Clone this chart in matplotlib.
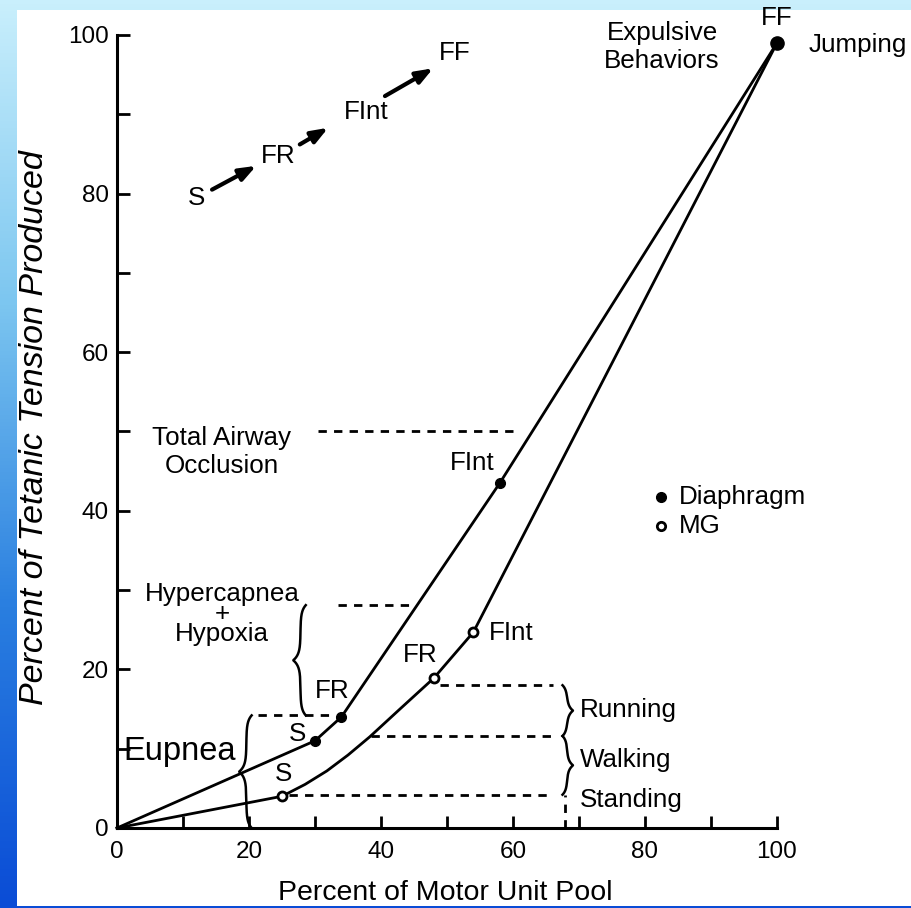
import numpy as np
import matplotlib
matplotlib.use("Agg")
import matplotlib.pyplot as plt
from matplotlib.patches import Rectangle

plt.rcParams['font.family'] = ['Liberation Sans', 'DejaVu Sans']

# curves (percent of motor unit pool vs percent of tetanic tension)
diaph_x = [0, 30, 34, 58, 100]
diaph_y = [0, 11, 14, 43.5, 99]
diaph_labels = ["S", "FR", "FInt", "FF"]

mg_x = [0, 25, 28.5, 31.8, 35, 38.3, 43, 48, 54, 100]
mg_y = [0, 4, 5.5, 7.2, 9.2, 11.5, 15.1, 18.9, 24.7, 99]
mg_marks = [1, 7, 8]          # S, FR, FInt

# dashed reference levels: (y, x start, x end)
occlusion = (50, 30.5, 60.8)
hypercap = (28.1, 33.5, 44.7)
eupnea = (14.2, 21.4, 32.5)
running = (18.0, 49, 66)
walking = (11.6, 38.5, 66)
standing = (4.2, 26, 66)

# recruitment order arrows
order_labels = ["S", "FR", "FInt", "FF"]
order_pos = [(12.1, 79.4), (24.4, 84.7), (37.7, 90.3), (51.2, 97.7)]
arrows = [((14.4, 80.5), (21.1, 83.5)),
          ((27.7, 86.2), (32.0, 88.3)),
          ((40.6, 92.3), (47.9, 95.8))]

fig = plt.figure(figsize=(9.11, 9.08), dpi=100)

# slide background
bg = fig.add_axes([0, 0, 1, 1], zorder=-10)
grad = np.linspace(0, 1, 256).reshape(-1, 1)
cmap = matplotlib.colors.LinearSegmentedColormap.from_list(
    "slide", ["#c9effc", "#7cc6f0", "#2a7fe0", "#0a4cd6"])
bg.imshow(grad, aspect='auto', cmap=cmap, extent=[0, 1, 0, 1])
bg.add_patch(Rectangle((17 / 911, 1 - 906 / 908), 1, (906 - 10) / 908,
                       facecolor='white', edgecolor='none'))
bg.set_xlim(0, 1)
bg.set_ylim(0, 1)
bg.axis('off')

ax = fig.add_axes([117 / 911, 80 / 908, 660 / 911, 793 / 908])
ax.set_facecolor('none')
ax.set_xlim(0, 100)
ax.set_ylim(0, 100)
for s in ['top', 'right']:
    ax.spines[s].set_visible(False)
for s in ['left', 'bottom']:
    ax.spines[s].set_linewidth(2.2)
ax.set_xticks(range(0, 101, 20))
ax.set_yticks(range(0, 101, 20))
ax.set_xticks(range(10, 100, 20), minor=True)
ax.set_yticks(range(10, 100, 20), minor=True)
ax.tick_params(which='both', direction='in', length=9, width=2)
ax.tick_params(axis='x', pad=9, labelsize=17.5)
ax.tick_params(axis='y', pad=6, labelsize=17.5)

lw = 2.0
ax.plot(diaph_x, diaph_y, color='black', lw=lw, clip_on=False, zorder=3)
ax.plot(mg_x, mg_y, color='black', lw=lw, clip_on=False, zorder=3)
ax.plot(diaph_x[1:4], diaph_y[1:4], 'o', color='black', ms=7, clip_on=False, zorder=4)
ax.plot(diaph_x[4], diaph_y[4], 'o', color='black', ms=9.5, clip_on=False, zorder=4)
ax.plot([mg_x[i] for i in mg_marks], [mg_y[i] for i in mg_marks], 'o',
        mfc='white', mec='black', mew=2, ms=6.5, clip_on=False, zorder=4)

dash = dict(color='black', lw=2.0, linestyle=(0, (3, 2.6)), clip_on=False)
for y, x0, x1 in [occlusion, hypercap, eupnea, running, walking, standing]:
    ax.plot([x0, x1], [y, y], **dash)
ax.plot([67.9, 67.9], [0, standing[0]], **dash)


def brace(x, y0, y1, side, tip=1.1, end=0.8, sc=0.75):
    # vertical curly brace; side=-1 tip points left, +1 right
    yy = np.linspace(y0, y1, 400)
    ym = (y0 + y1) / 2
    off = (end * np.exp(-(yy - y0) / sc) + end * np.exp(-(y1 - yy) / sc)
           - tip * np.exp(-np.abs(yy - ym) / sc))
    ax.plot(x - side * off, yy, color='black', lw=1.8, clip_on=False, zorder=3)


brace(19.6, 0, eupnea[0], -1)
brace(27.8, eupnea[0], hypercap[0], -1)
brace(68.2, walking[0], running[0], 1, tip=0.9, end=0.7, sc=0.6)
brace(68.2, standing[0], walking[0], 1, tip=0.9, end=0.7, sc=0.6)

fs = 18.7
t = dict(fontsize=fs, ha='center', va='center', clip_on=False)
for lab, (x, y) in zip(order_labels, order_pos):
    ax.text(x, y, lab, **t)
for (x0, y0), (x1, y1) in arrows:
    ax.annotate("", xy=(x1, y1), xytext=(x0, y0),
                arrowprops=dict(arrowstyle='-|>,head_length=1.0,head_width=0.38',
                                color='black', lw=3, shrinkA=0, shrinkB=0))

ax.text(82.6, 98.5, "Expulsive\nBehaviors", linespacing=1.25, **t)
ax.text(100, 102.1, "FF", **t)
ax.text(112.3, 98.8, "Jumping", **t)
ax.text(15.9, 47.4, "Total Airway\nOcclusion", linespacing=1.25, **t)
ax.text(53.8, 46.0, "FInt", **t)
ax.text(15.9, 27.0, "Hypercapnea\n+\nHypoxia", linespacing=0.8, **t)
ax.text(32.6, 17.3, diaph_labels[1], **t)
ax.text(27.4, 11.8, diaph_labels[0], **t)
ax.text(0.9, 9.6, "Eupnea", fontsize=23.5, ha='left', va='center')
ax.text(25.2, 6.8, "S", **t)
ax.text(45.9, 21.8, "FR", **t)
ax.text(56.3, 24.6, "FInt", fontsize=fs, ha='left', va='center')
for lab, y in [("Running", 14.9), ("Walking", 8.6), ("Standing", 3.5)]:
    ax.text(70.2, y, lab, fontsize=fs, ha='left', va='center')

# legend
ax.plot(82.4, 41.7, 'o', color='black', ms=7)
ax.plot(82.4, 38.1, 'o', mfc='white', mec='black', mew=2, ms=6)
ax.text(85.2, 41.7, "Diaphragm", fontsize=fs, ha='left', va='center')
ax.text(85.2, 38.1, "MG", fontsize=fs, ha='left', va='center')

fig.text(445 / 911, 1 - 893 / 908, "Percent of Motor Unit Pool",
         fontsize=20.5, ha='center', va='center')
fig.text(35 / 911, 1 - 428 / 908, "Percent of Tetanic Tension Produced",
         fontsize=24.5, style='italic', rotation=90, ha='center', va='center')

fig.savefig("out.png", dpi=100)
